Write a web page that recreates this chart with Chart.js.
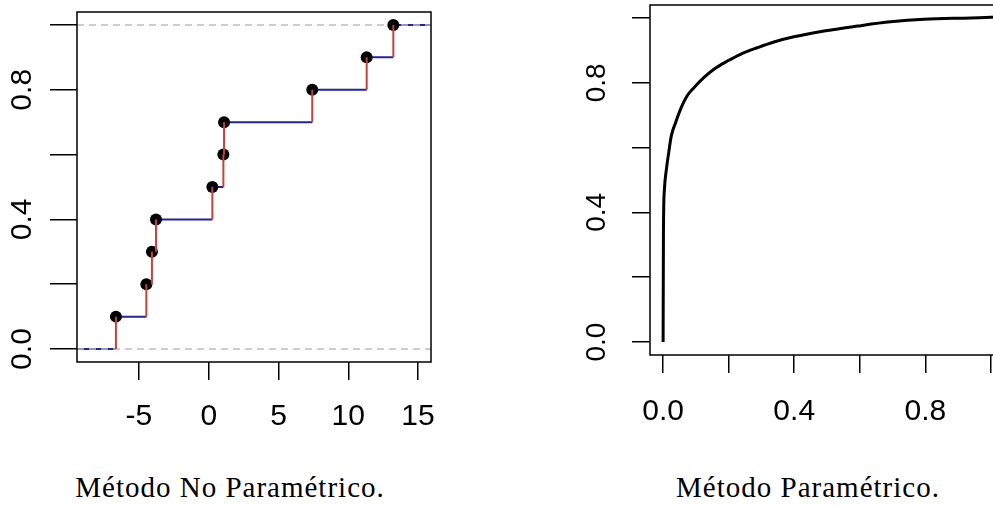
<!DOCTYPE html>
<html>
<head>
<meta charset="utf-8">
<script src="https://cdn.jsdelivr.net/npm/chart.js@4"></script>
<style>
html, body { margin: 0; background: #fff; overflow: hidden; width: 993px; height: 505px; }
canvas { position: absolute; top: 0; }
#left { left: 0; }
#right { left: 560px; }
.cap {
    position: absolute; top: 473px; line-height: 29px;
    font-family: "Liberation Serif", "Times New Roman", serif; font-size: 29px;
    letter-spacing: 1px; white-space: nowrap; transform: translateX(-50%); color: #000;
}
</style>
</head>
<body>
<canvas id="left" width="460" height="450"></canvas>
<canvas id="right" width="460" height="450"></canvas>
<div class="cap" style="left:230px">Método No Paramétrico.</div>
<div class="cap" style="left:808px">Método Paramétrico.</div>
<script>
'use strict';

// empirical cdf (left panel)
const ecdfX = [-6.65, -4.47, -4.07, -3.78, 0.26, 1.05, 1.10, 7.42, 11.32, 13.23];
const ecdfY = [0.1, 0.2, 0.3, 0.4, 0.5, 0.6, 0.7, 0.8, 0.9, 1.0];
const leftXRange = [-9.44, 15.93];
const leftXTicks = [-5, 0, 5, 10, 15];
const leftXText = ['-5', '0', '5', '10', '15'];

// fitted cdf (right panel)
const paramX = [0, 0.001, 0.004, 0.01, 0.017, 0.025, 0.038, 0.053, 0.073, 0.094, 0.124, 0.155,
    0.196, 0.236, 0.287, 0.338, 0.399, 0.491, 0.593, 0.694, 0.796, 0.939, 1.0, 1.05];
const paramY = [0, 0.337, 0.471, 0.533, 0.584, 0.636, 0.677, 0.718, 0.759, 0.785, 0.816, 0.842,
    0.867, 0.888, 0.908, 0.926, 0.942, 0.960, 0.975, 0.988, 0.996, 1.0, 1.002, 1.003];
const rightXRange = [-0.04, 1.04];
const rightXTicks = [0, 0.4, 0.8];
const rightXText = ['0.0', '0.4', '0.8'];

const yRange = [-0.04, 1.04];
const yTicks = [0, 0.4, 0.8];
const yText = ['0.0', '0.4', '0.8'];

const BLUE = '#23239c';
const RED = '#c4433c';
const GRAY = '#bdbdbd';

// labels, rotated y labels and the frame, R style
const rAxes = {
    id: 'rAxes',
    afterDraw(chart, args, opts) {
        const ctx = chart.ctx;
        const area = chart.chartArea;
        const xs = chart.scales.x;
        const ys = chart.scales.y;
        ctx.save();
        ctx.fillStyle = '#000';
        ctx.textAlign = 'center';
        ctx.textBaseline = 'middle';
        ctx.font = opts.xFont;
        opts.xTicks.forEach((v, i) => {
            ctx.fillText(opts.xText[i], xs.getPixelForValue(v), area.bottom + opts.xGap);
        });
        ctx.font = opts.yFont;
        yTicks.forEach((v, i) => {
            ctx.save();
            ctx.translate(area.left - opts.yGap, ys.getPixelForValue(v));
            ctx.rotate(-Math.PI / 2);
            ctx.fillText(yText[i], 0, 0);
            ctx.restore();
        });
        ctx.lineWidth = 1.5;
        ctx.strokeStyle = '#000';
        ctx.strokeRect(area.left, area.top, area.right - area.left, area.bottom - area.top);
        ctx.restore();
    }
};

function axes(xRange, xStep, xTickLen, yTickLen, yWidth, xHeight) {
    return {
        x: {
            type: 'linear', min: xRange[0], max: xRange[1],
            ticks: { display: false, stepSize: xStep, includeBounds: false },
            grid: { drawOnChartArea: false, drawTicks: true, tickLength: xTickLen, color: '#000', lineWidth: 1.5 },
            border: { display: false },
            afterFit(scale) { scale.height = xHeight; }
        },
        y: {
            type: 'linear', min: yRange[0], max: yRange[1],
            ticks: { display: false, stepSize: 0.2, includeBounds: false },
            grid: { drawOnChartArea: false, drawTicks: true, tickLength: yTickLen, color: '#000', lineWidth: 1.5 },
            border: { display: false },
            afterFit(scale) { scale.width = yWidth; }
        }
    };
}

const baseOptions = {
    responsive: false,
    animation: false,
    plugins: { legend: { display: false }, tooltip: { enabled: false } }
};

// left panel: step segments
let blueSeg = [{ x: leftXRange[0], y: 0 }, { x: ecdfX[0], y: 0 }, { x: ecdfX[0], y: null }];
let redSeg = [];
ecdfX.forEach((x, i) => {
    let prev = i === 0 ? 0 : ecdfY[i - 1];
    redSeg.push({ x: x, y: prev }, { x: x, y: ecdfY[i] }, { x: x, y: null });
    let next = i < ecdfX.length - 1 ? ecdfX[i + 1] : leftXRange[1];
    blueSeg.push({ x: x, y: ecdfY[i] }, { x: next, y: ecdfY[i] }, { x: next, y: null });
});

new Chart(document.getElementById('left'), {
    type: 'scatter',
    data: {
        datasets: [
            { data: redSeg, showLine: true, spanGaps: false, borderColor: RED, borderWidth: 2, pointRadius: 0, order: 0 },
            { data: ecdfX.map((x, i) => ({ x: x, y: ecdfY[i] })), pointRadius: 6, pointBackgroundColor: '#000',
              pointBorderWidth: 0, order: 1 },
            { data: [{ x: leftXRange[0], y: 0 }, { x: leftXRange[1], y: 0 }, { x: leftXRange[1], y: null },
                     { x: leftXRange[0], y: 1 }, { x: leftXRange[1], y: 1 }],
              showLine: true, spanGaps: false, borderColor: GRAY, borderWidth: 1.5, borderDash: [7, 5], pointRadius: 0, order: 2 },
            { data: blueSeg, showLine: true, spanGaps: false, borderColor: BLUE, borderWidth: 2, pointRadius: 0, order: 3 }
        ]
    },
    options: Object.assign({}, baseOptions, {
        layout: { padding: { left: 0, top: 12, right: 29, bottom: 0 } },
        scales: axes(leftXRange, 5, 18, 27, 77, 88),
        plugins: Object.assign({}, baseOptions.plugins, {
            rAxes: { xTicks: leftXTicks, xText: leftXText, xGap: 54.5, yGap: 54,
                     xFont: '30px "Liberation Sans", Arial, sans-serif', yFont: '30px "Liberation Sans", Arial, sans-serif' }
        })
    }),
    plugins: [rAxes]
});

new Chart(document.getElementById('right'), {
    type: 'scatter',
    data: {
        datasets: [
            { data: paramX.map((x, i) => ({ x: x, y: paramY[i] })), showLine: true, borderColor: '#000',
              borderWidth: 3, pointRadius: 0, cubicInterpolationMode: 'monotone' }
        ]
    },
    options: Object.assign({}, baseOptions, {
        layout: { padding: { left: 0, top: 5, right: 16, bottom: 0 } },
        scales: axes(rightXRange, 0.2, 18, 18, 90, 95),
        plugins: Object.assign({}, baseOptions.plugins, {
            rAxes: { xTicks: rightXTicks, xText: rightXText, xGap: 57, yGap: 53,
                     xFont: '30px "Liberation Sans", Arial, sans-serif', yFont: '28px "Liberation Sans", Arial, sans-serif' }
        })
    }),
    plugins: [rAxes]
});
</script>
</body>
</html>
